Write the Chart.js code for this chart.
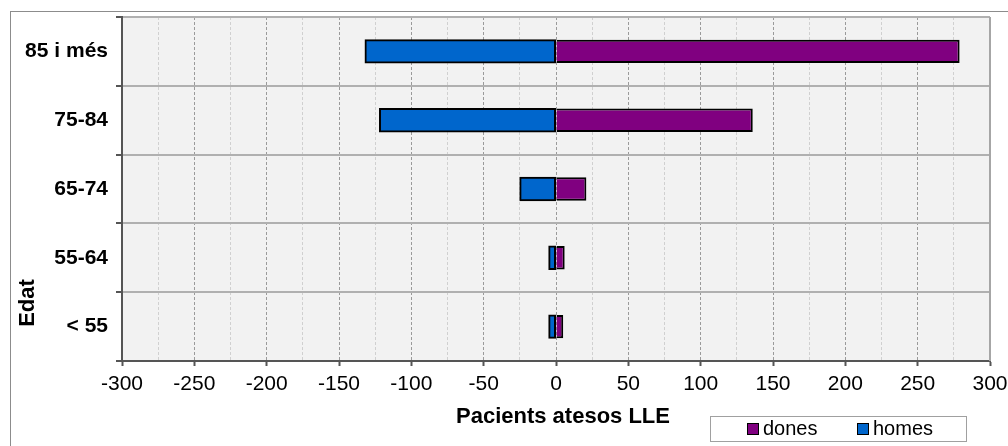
<!DOCTYPE html>
<html>
<head>
<meta charset="utf-8">
<title>Pacients atesos LLE per edat</title>
<script src="https://cdn.jsdelivr.net/npm/chart.js@4/dist/chart.umd.min.js"></script>
<style>
  html, body { margin: 0; padding: 0; background: #ffffff; }
  #wrap { width: 1008px; height: 446px; }
</style>
</head>
<body>
<div id="wrap"><canvas id="c" width="1008" height="446"></canvas></div>
<script>
// Age groups (top to bottom) and patients per sex; men are plotted to the left.
const categories = ['85 i més', '75-84', '65-74', '55-64', '< 55'];
const dones = [279, 136, 21, 6, 5];
const homes = [-132, -122, -25, -5, -5];
const xTickValues = [-300, -250, -200, -150, -100, -50, 0, 50, 100, 150, 200, 250, 300];
const xTitle = 'Pacients atesos LLE';
const yTitle = 'Edat';

const FONT = "'Liberation Sans', Arial, Helvetica, sans-serif";

const isMajor = v => xTickValues.includes(v);

// Plot background, frame, outer border, axis titles and boxed legend.
const decorations = {
  id: 'decorations',
  beforeDraw(chart) {
    const { ctx, chartArea: a } = chart;
    ctx.save();
    ctx.fillStyle = '#ffffff';
    ctx.fillRect(0, 0, chart.width, chart.height);
    ctx.fillStyle = '#f2f2f2';
    ctx.fillRect(a.left, a.top, a.right - a.left, a.bottom - a.top);
    ctx.strokeStyle = '#8c8c8c';
    ctx.lineWidth = 1;
    ctx.strokeRect(10.5, 11.5, chart.width + 50, chart.height + 50);
    ctx.restore();
  },
  afterDraw(chart) {
    const { ctx, chartArea: a } = chart;
    ctx.save();
    // right edge of the plot frame
    ctx.strokeStyle = '#a6a6a6';
    ctx.lineWidth = 2;
    ctx.beginPath();
    ctx.moveTo(a.right, a.top);
    ctx.lineTo(a.right, a.bottom);
    ctx.stroke();

    // axis titles
    ctx.fillStyle = '#000000';
    ctx.font = 'bold 22px ' + FONT;
    ctx.textAlign = 'center';
    ctx.textBaseline = 'middle';
    ctx.fillText(xTitle, 563, 417);
    ctx.save();
    ctx.translate(28, 303);
    ctx.rotate(-Math.PI / 2);
    ctx.fillText(yTitle, 0, 0);
    ctx.restore();

    // legend box
    const bx = 710, by = 416, bw = 256, bh = 25;
    ctx.fillStyle = '#ffffff';
    ctx.fillRect(bx, by, bw, bh);
    ctx.strokeStyle = '#a0a0a0';
    ctx.lineWidth = 1;
    ctx.strokeRect(bx + 0.5, by + 0.5, bw, bh);
    ctx.font = '20px ' + FONT;
    ctx.textAlign = 'left';
    ctx.textBaseline = 'middle';
    chart.data.datasets.forEach((ds, i) => {
      const x = bx + 37 + i * 110;
      const y = by + 7;
      ctx.fillStyle = ds.backgroundColor;
      ctx.fillRect(x, y, 12, 12);
      ctx.strokeStyle = '#000000';
      ctx.lineWidth = 1;
      ctx.strokeRect(x + 0.5, y + 0.5, 11, 11);
      ctx.fillStyle = '#000000';
      ctx.fillText(ds.label, x + 16, by + 13);
    });
    ctx.restore();
  }
};

new Chart(document.getElementById('c'), {
  type: 'bar',
  data: {
    labels: categories,
    datasets: [
      { label: 'dones', data: dones, backgroundColor: '#800080', borderSkipped: 'start' },
      { label: 'homes', data: homes, backgroundColor: '#0066cc', borderSkipped: false, inflateAmount: 0.5 }
    ]
  },
  options: {
    indexAxis: 'y',
    responsive: false,
    animation: false,
    devicePixelRatio: 1,
    layout: { padding: { top: 17, right: 18, left: 0, bottom: 0 } },
    datasets: {
      bar: {
        borderColor: '#000000',
        borderWidth: 2,
        categoryPercentage: 1,
        barPercentage: 0.34
      }
    },
    plugins: {
      legend: { display: false },
      tooltip: { enabled: false }
    },
    scales: {
      x: {
        type: 'linear',
        stacked: true,
        min: -300,
        max: 300,
        afterFit(scale) {
          scale.height = 85;
          scale.paddingRight = 0;
          scale.paddingLeft = 0;
        },
        ticks: {
          stepSize: 25,
          autoSkip: false,
          maxRotation: 0,
          padding: 6,
          color: '#000000',
          font: { family: FONT, size: 21 },
          callback: v => (isMajor(v) ? String(v) : '')
        },
        grid: {
          color: ctx => (isMajor(ctx.tick && ctx.tick.value) ? '#9a9a9a' : '#d0d0d0'),
          lineWidth: 1,
          tickLength: 5,
          tickWidth: 2,
          tickColor: ctx => (isMajor(ctx.tick && ctx.tick.value) ? '#555555' : 'rgba(0,0,0,0)'),
          tickBorderDash: []
        },
        border: { display: true, color: '#555555', width: 2, dash: [3, 2] }
      },
      y: {
        stacked: true,
        afterFit(scale) {
          scale.width = 122;
          scale.paddingTop = 0;
          scale.paddingBottom = 0;
        },
        ticks: {
          padding: 8,
          color: '#000000',
          font: { family: FONT, size: 21, weight: 'bold' }
        },
        grid: {
          offset: true,
          color: '#b0b0b0',
          lineWidth: 2,
          tickLength: 6,
          tickWidth: 2,
          tickColor: '#555555'
        },
        border: { display: true, color: '#555555', width: 2 }
      }
    }
  },
  plugins: [decorations]
});
</script>
</body>
</html>
